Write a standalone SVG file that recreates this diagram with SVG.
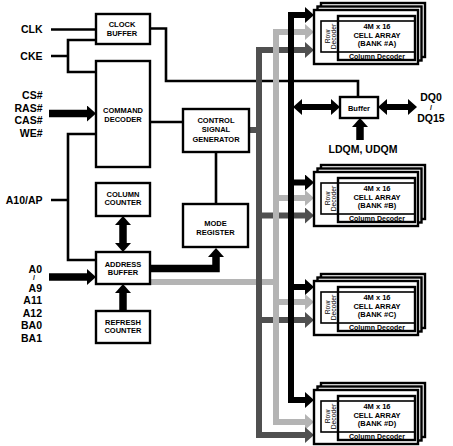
<svg xmlns="http://www.w3.org/2000/svg" width="453" height="446" viewBox="0 0 453 446">
<style>
.box{fill:#fff;stroke:#000;stroke-width:2.4}
.thin{fill:none;stroke:#000;stroke-width:1.6}
.lbl{font-family:"Liberation Sans",Arial,sans-serif;font-weight:bold;font-size:10.5px;fill:#000}
.bt{font-family:"Liberation Sans",Arial,sans-serif;font-weight:bold;font-size:7.5px;text-anchor:middle;fill:#000}
.ct{font-family:"Liberation Sans",Arial,sans-serif;font-weight:bold;font-size:7.5px;text-anchor:middle;fill:#000}
.cd{font-family:"Liberation Sans",Arial,sans-serif;font-weight:bold;font-size:7px;text-anchor:middle;fill:#000}
.rd{font-family:"Liberation Sans",Arial,sans-serif;font-size:6.8px;text-anchor:middle;dominant-baseline:central;fill:#000}
.w{fill:none;stroke:#000;stroke-width:2.6;stroke-linejoin:miter}
.fat{fill:none;stroke:#000;stroke-width:7.5;stroke-linejoin:miter}
.bk{fill:none;stroke:#000;stroke-width:6}
.bl{fill:none;stroke:#b4b4b4;stroke-width:6}
.bd{fill:none;stroke:#505050;stroke-width:6}
</style>
<defs>
<marker id="mk" markerUnits="userSpaceOnUse" markerWidth="9" markerHeight="16" refX="0" refY="8" orient="auto-start-reverse"><path d="M0,0 L9,8 L0,16 z" fill="#000"/></marker>
<marker id="ml" markerUnits="userSpaceOnUse" markerWidth="9" markerHeight="16" refX="0" refY="8" orient="auto"><path d="M0,0 L9,8 L0,16 z" fill="#b4b4b4"/></marker>
<marker id="md" markerUnits="userSpaceOnUse" markerWidth="9" markerHeight="16" refX="0" refY="8" orient="auto"><path d="M0,0 L9,8 L0,16 z" fill="#505050"/></marker>
</defs>
<rect width="453" height="446" fill="#fff"/>

<g id="connectors">
<path class="w" d="M51,29.5 H96"/>
<path class="w" d="M51,56 H68 M96,40 H68 V72 H96"/>
<path class="w" d="M96,134 H68 V260 H96 M51,200 H68"/>
<path class="w" d="M150,122 H183"/>
<path class="w" d="M216,152 V204"/>
<path class="w" d="M150,28.5 H166 V81 H358 V97"/>
<path class="fat" d="M49,113.5 H87" marker-end="url(#mk)"/>
<path class="fat" d="M49,277 H87" marker-end="url(#mk)"/>
<path class="fat" d="M123,225 V243" marker-start="url(#mk)" marker-end="url(#mk)"/>
<path class="fat" d="M123,311 V293" marker-end="url(#mk)"/>
<path class="fat" d="M150,268.5 H216 V257" marker-end="url(#mk)"/>
<path class="fat" d="M360,140 V127" marker-end="url(#mk)"/>
<path class="bk" d="M302,107 H331" marker-start="url(#mk)" marker-end="url(#mk)"/>
<path class="bk" d="M387,107 H408" marker-start="url(#mk)" marker-end="url(#mk)"/>
<path class="bl" d="M150,282 H279"/>
<path class="bd" d="M249,130 H259"/>
<path class="bl" d="M273,32 H305" marker-end="url(#ml)"/>
<path class="bl" d="M273,198 H305" marker-end="url(#ml)"/>
<path class="bl" d="M273,302 H305" marker-end="url(#ml)"/>
<path class="bl" d="M273,422 H305" marker-end="url(#ml)"/>
<path class="bd" d="M256,50 H305" marker-end="url(#md)"/>
<path class="bd" d="M256,215.5 H305" marker-end="url(#md)"/>
<path class="bd" d="M256,320 H305" marker-end="url(#md)"/>
<path class="bd" d="M256,435 H305" marker-end="url(#md)"/>
<path class="bd" d="M259,47 V438"/>
<path class="bl" d="M276,29 V425"/>
<path class="bk" d="M291,12 V403"/>
<path class="bk" d="M288,15 H305" marker-end="url(#mk)"/>
<path class="bk" d="M288,182.5 H305" marker-end="url(#mk)"/>
<path class="bk" d="M288,287 H305" marker-end="url(#mk)"/>
<path class="bk" d="M288,400 H305" marker-end="url(#mk)"/>
</g>

<g id="labels">
<text class="lbl" x="42.5" y="33" text-anchor="end">CLK</text>
<text class="lbl" x="42.5" y="60.3" text-anchor="end">CKE</text>
<text class="lbl" x="42.5" y="99.3" text-anchor="end">CS#</text>
<text class="lbl" x="42.5" y="111.7" text-anchor="end">RAS#</text>
<text class="lbl" x="42.5" y="124.3" text-anchor="end">CAS#</text>
<text class="lbl" x="42.5" y="136.7" text-anchor="end">WE#</text>
<text class="lbl" x="42.5" y="204" text-anchor="end">A10/AP</text>
<text class="lbl" x="42" y="272.7" text-anchor="end">A0</text>
<text class="lbl" x="34" y="280" text-anchor="middle" style="font-size:7px">/</text>
<text class="lbl" x="42" y="291.7" text-anchor="end">A9</text>
<text class="lbl" x="42" y="304" text-anchor="end">A11</text>
<text class="lbl" x="42" y="316.7" text-anchor="end">A12</text>
<text class="lbl" x="42" y="329" text-anchor="end">BA0</text>
<text class="lbl" x="42" y="341.7" text-anchor="end">BA1</text>
<text class="lbl" x="431" y="100.8" text-anchor="middle">DQ0</text>
<text class="lbl" x="431" y="110" text-anchor="middle" style="font-size:7px">/</text>
<text class="lbl" x="431" y="121.8" text-anchor="middle">DQ15</text>
<text class="lbl" x="363" y="153" text-anchor="middle">LDQM, UDQM</text>
</g>

<g id="clock-buffer"><rect class="box" x="96" y="14" width="54" height="30"/><text class="bt" x="122" y="27">CLOCK</text><text class="bt" x="122" y="36">BUFFER</text></g>
<g id="command-decoder"><rect class="box" x="96" y="61" width="54" height="106"/><text class="bt" x="123" y="112.7">COMMAND</text><text class="bt" x="123" y="121.7">DECODER</text></g>
<g id="control-signal-generator"><rect class="box" x="183" y="109" width="66" height="43"/><text class="bt" x="216" y="123">CONTROL</text><text class="bt" x="216" y="132.4">SIGNAL</text><text class="bt" x="216" y="141.7">GENERATOR</text></g>
<g id="mode-register"><rect class="box" x="183" y="204" width="65" height="43"/><text class="bt" x="215.5" y="226">MODE</text><text class="bt" x="215.5" y="235.4">REGISTER</text></g>
<g id="column-counter"><rect class="box" x="96" y="183" width="54" height="33"/><text class="bt" x="123" y="196.7">COLUMN</text><text class="bt" x="123" y="205.4">COUNTER</text></g>
<g id="address-buffer"><rect class="box" x="96" y="252" width="54" height="32"/><text class="bt" x="123" y="266.7">ADDRESS</text><text class="bt" x="123" y="275.4">BUFFER</text></g>
<g id="refresh-counter"><rect class="box" x="96" y="311" width="54" height="32"/><text class="bt" x="123" y="324.7">REFRESH</text><text class="bt" x="123" y="333.4">COUNTER</text></g>
<g id="dq-buffer"><rect class="box" x="340" y="97" width="38" height="21"/><text class="bt" x="359" y="110.5">Buffer</text></g>

<g id="bank-a" transform="translate(0,10)">
<rect class="box" x="321" y="-7" width="104" height="54"/><rect class="box" x="317.5" y="-3.5" width="104" height="54"/><rect class="box" x="314" y="0" width="104" height="54"/>
<rect class="thin" x="321" y="11" width="94" height="31"/><rect class="box" style="fill:none" x="338" y="6" width="77" height="44"/>
<text class="rd" transform="translate(327,26.5) rotate(-90)">Row</text><text class="rd" transform="translate(333.5,26.5) rotate(-90)">Decoder</text>
<text class="ct" x="377" y="18.5">4M x 16</text><text class="ct" x="377" y="27.5">CELL ARRAY</text><text class="ct" x="377" y="36.3">(BANK #A)</text><text class="cd" x="377" y="48.6">Column Decoder</text>
</g>
<g id="bank-b" transform="translate(0,172)">
<rect class="box" x="321" y="-7" width="104" height="54"/><rect class="box" x="317.5" y="-3.5" width="104" height="54"/><rect class="box" x="314" y="0" width="104" height="54"/>
<rect class="thin" x="321" y="11" width="94" height="31"/><rect class="box" style="fill:none" x="338" y="6" width="77" height="44"/>
<text class="rd" transform="translate(327,26.5) rotate(-90)">Row</text><text class="rd" transform="translate(333.5,26.5) rotate(-90)">Decoder</text>
<text class="ct" x="377" y="18.5">4M x 16</text><text class="ct" x="377" y="27.5">CELL ARRAY</text><text class="ct" x="377" y="36.3">(BANK #B)</text><text class="cd" x="377" y="48.6">Column Decoder</text>
</g>
<g id="bank-c" transform="translate(0,281)">
<rect class="box" x="321" y="-7" width="104" height="54"/><rect class="box" x="317.5" y="-3.5" width="104" height="54"/><rect class="box" x="314" y="0" width="104" height="54"/>
<rect class="thin" x="321" y="11" width="94" height="31"/><rect class="box" style="fill:none" x="338" y="6" width="77" height="44"/>
<text class="rd" transform="translate(327,26.5) rotate(-90)">Row</text><text class="rd" transform="translate(333.5,26.5) rotate(-90)">Decoder</text>
<text class="ct" x="377" y="18.5">4M x 16</text><text class="ct" x="377" y="27.5">CELL ARRAY</text><text class="ct" x="377" y="36.3">(BANK #C)</text><text class="cd" x="377" y="48.6">Column Decoder</text>
</g>
<g id="bank-d" transform="translate(0,390)">
<rect class="box" x="321" y="-7" width="104" height="54"/><rect class="box" x="317.5" y="-3.5" width="104" height="54"/><rect class="box" x="314" y="0" width="104" height="54"/>
<rect class="thin" x="321" y="11" width="94" height="31"/><rect class="box" style="fill:none" x="338" y="6" width="77" height="44"/>
<text class="rd" transform="translate(327,26.5) rotate(-90)">Row</text><text class="rd" transform="translate(333.5,26.5) rotate(-90)">Decoder</text>
<text class="ct" x="377" y="18.5">4M x 16</text><text class="ct" x="377" y="27.5">CELL ARRAY</text><text class="ct" x="377" y="36.3">(BANK #D)</text><text class="cd" x="377" y="48.6">Column Decoder</text>
</g>
</svg>
